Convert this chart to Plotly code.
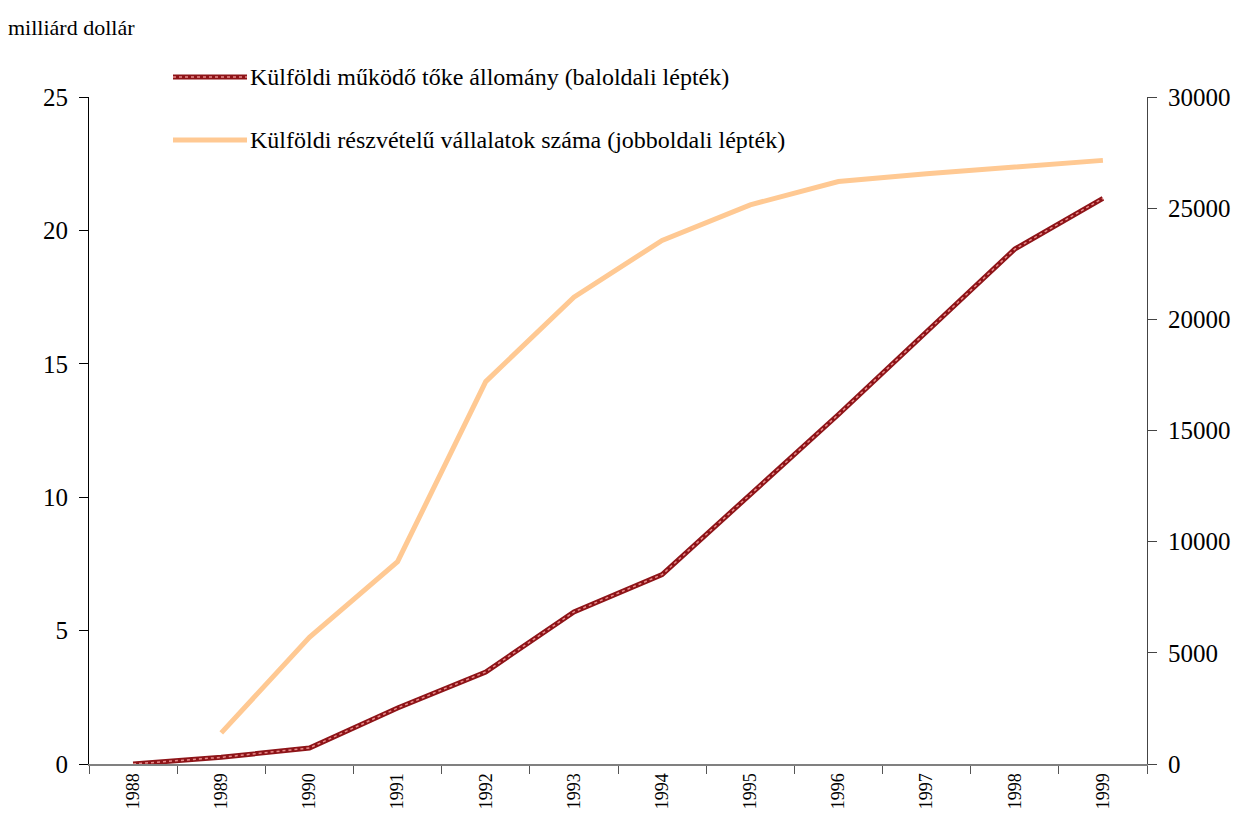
import plotly.graph_objects as go

years = ["1988", "1989", "1990", "1991", "1992", "1993", "1994", "1995", "1996", "1997", "1998", "1999"]
fdi_stock = [0.0, 0.25, 0.6, 2.1, 3.45, 5.7, 7.1, 10.1, 13.1, 16.2, 19.3, 21.2]
firms = [None, 1400, 5700, 9100, 17200, 21000, 23550, 25150, 26200, 26550, 26850, 27150]

left_ticks = [0, 5, 10, 15, 20, 25]
right_ticks = [0, 5000, 10000, 15000, 20000, 25000, 30000]

name1 = "Külföldi működő tőke állomány (baloldali lépték)"
name2 = "Külföldi részvételű vállalatok száma (jobboldali lépték)"

RED = "#8E1418"
PINK = "#E88A8A"
ORANGE = "#FFC993"
FONT = "Liberation Serif"

fig = go.Figure()
fig.add_trace(go.Scatter(x=years, y=firms, name=name2, yaxis="y2", mode="lines",
                         line=dict(color=ORANGE, width=5), connectgaps=False))
fig.add_trace(go.Scatter(x=years, y=fdi_stock, name=name1, mode="lines",
                         line=dict(color=RED, width=5)))
fig.add_trace(go.Scatter(x=years, y=fdi_stock, mode="lines", showlegend=False,
                         line=dict(color=PINK, width=1.5, dash="dot")))

# page body has an 8px margin, so work in shifted coordinates
OFF = 8
W, H = 1247, 816
L, R, T, B = 89 - OFF, 1147 - OFF, 97 - OFF, 764 - OFF

def px(x):
    return (x - OFF - L) / (R - L)

def py(y):
    return (B - (y - OFF)) / (B - T)

shapes = [
    dict(type="line", xref="paper", yref="paper", x0=px(173), x1=px(247), y0=py(77), y1=py(77),
         line=dict(color=RED, width=5)),
    dict(type="line", xref="paper", yref="paper", x0=px(173), x1=px(247), y0=py(77), y1=py(77),
         line=dict(color=PINK, width=1.5, dash="dot")),
    dict(type="line", xref="paper", yref="paper", x0=px(173), x1=px(247), y0=py(140), y1=py(140),
         line=dict(color=ORANGE, width=5)),
]
annotations = [
    dict(text=name1, xref="paper", yref="paper", x=px(248), y=py(77), xanchor="left", yanchor="middle",
         showarrow=False, font=dict(family=FONT, size=24, color="black")),
    dict(text=name2, xref="paper", yref="paper", x=px(248), y=py(140), xanchor="left", yanchor="middle",
         showarrow=False, font=dict(family=FONT, size=24, color="black")),
    dict(text="milliárd dollár", xref="paper", yref="paper", x=px(6), y=py(27), xanchor="left", yanchor="middle",
         showarrow=False, font=dict(family=FONT, size=22, color="black")),
]

fig.update_layout(
    width=W, height=H,
    margin=dict(l=L, r=W - R, t=T, b=H - B),
    paper_bgcolor="white", plot_bgcolor="white",
    showlegend=False,
    font=dict(family=FONT, color="black"),
    shapes=shapes, annotations=annotations,
    xaxis=dict(type="category", range=[-0.5, 11.5], tickson="boundaries", ticks="outside", ticklen=8,
               tickcolor="#555555", showline=True, linecolor="#808080", linewidth=2,
               tickangle=-90, tickfont=dict(family=FONT, size=18), showgrid=False, zeroline=False),
    yaxis=dict(range=[0, 25], tickvals=left_ticks, ticktext=[str(v) for v in left_ticks],
               ticks="outside", ticklen=9, ticklabelstandoff=6,
               tickcolor="black", showline=True, linecolor="black", linewidth=1,
               tickfont=dict(family=FONT, size=25), showgrid=False, zeroline=False),
    yaxis2=dict(range=[0, 30000], tickvals=right_ticks, ticktext=[str(v) for v in right_ticks],
                overlaying="y", side="right", ticks="outside", ticklen=9, tickcolor="#444444",
                ticklabelstandoff=6,
                showline=True, linecolor="#444444", linewidth=1,
                tickfont=dict(family=FONT, size=25), showgrid=False, zeroline=False),
)

fig.write_html("out.html")
